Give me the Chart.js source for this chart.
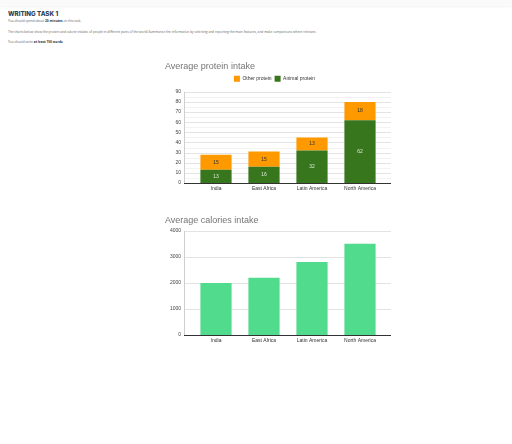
<!DOCTYPE html>
<html>
<head>
<meta charset="utf-8">
<script src="https://cdn.jsdelivr.net/npm/chart.js@4"></script>
<style>
  body { margin: 0; background: #fff; font-family: "Open Sans", sans-serif; width: 512px; height: 444px; position: relative; overflow: hidden; }
  .topbar { position: absolute; left: 0; top: 0; width: 512px; height: 6px; background: #fafafa; box-shadow: 0 1px 3px rgba(0,0,0,0.05); }
  .t { position: absolute; left: 8px; margin: 0; white-space: nowrap; }
  h1.t { font-size: 6.2px; font-family: "Inter", sans-serif; font-weight: 800; color: #2f3d55; top: 10px; }
  p.t { font-size: 3.2px; color: #666; }
  p.t b { color: #333; }
  .box { position: absolute; left: 165px; width: 235px; }
</style>
</head>
<body>
<div class="topbar"></div>
<h1 class="t">WRITING TASK 1</h1>
<p class="t" style="top:18.5px">You should spend about <b>20 minutes</b> on this task.</p>
<p class="t" style="top:29.5px">The charts below show the protein and calorie intakes of people in different parts of the world.Summarise the information by selecting and reporting the main features, and make comparisons where relevant.</p>
<p class="t" style="top:40px">You should write <b>at least 150 words</b>.</p>
<div class="box" style="top:61px;height:136px"><canvas id="protein"></canvas></div>
<div class="box" style="top:215px;height:134px"><canvas id="calories"></canvas></div>
<script>
const regions = ["India", "East Africa", "Latin America", "North America"];
const otherProtein = [15, 15, 13, 18];
const animalProtein = [13, 16, 32, 62];
const calories = [2000, 2200, 2800, 3500];

Chart.defaults.font.family = "Arial, 'Liberation Sans', sans-serif";
Chart.defaults.animation = false;

// value in the middle of each stacked segment
const valueLabels = {
  id: "valueLabels",
  afterDatasetsDraw(chart) {
    const ctx = chart.ctx;
    ctx.save();
    ctx.font = "5px Arial";
    ctx.textAlign = "center";
    ctx.textBaseline = "middle";
    chart.data.datasets.forEach((ds, i) => {
      chart.getDatasetMeta(i).data.forEach((bar, j) => {
        ctx.fillStyle = ds.labelColor;
        ctx.fillText(ds.data[j], bar.x, (bar.y + bar.base) / 2);
      });
    });
    ctx.restore();
  }
};

// plot frame is a bit wider than the bar area, like the sheets chart
const wideGrid = {
  id: "wideGrid",
  beforeDatasetsDraw(chart, args, opts) {
    const ctx = chart.ctx, a = chart.chartArea, y = chart.scales.y;
    const left = a.left - 8, right = a.right + 7;
    ctx.save();
    ctx.lineWidth = 1;
    y.ticks.forEach((t, i) => {
      const py = Math.round(y.getPixelForValue(t.value)) + 0.5;
      if (opts.minor && i > 0) {
        const my = Math.round(y.getPixelForValue(t.value - opts.minor)) + 0.5;
        ctx.strokeStyle = "#f3f3f3";
        ctx.beginPath(); ctx.moveTo(left, my); ctx.lineTo(right, my); ctx.stroke();
      }
      ctx.strokeStyle = t.value === 0 ? "#333" : "#e3e3e3";
      ctx.beginPath(); ctx.moveTo(left, py); ctx.lineTo(right, py); ctx.stroke();
    });
    ctx.strokeStyle = "#cfcfcf";
    ctx.beginPath();
    ctx.moveTo(left + 0.5, y.getPixelForValue(y.max));
    ctx.lineTo(left + 0.5, y.getPixelForValue(0));
    ctx.stroke();
    ctx.restore();
  }
};

function titleOpts(text, below) {
  return {
    display: true, text: text, align: "start", color: "#757575",
    font: { size: 9, weight: "normal" }, padding: { top: 0, bottom: below }
  };
}

function yScale(max, step) {
  return {
    stacked: true, min: 0, max: max,
    grid: { display: false, drawTicks: false, tickLength: 0 },
    border: { display: false },
    afterFit(s) { s.width = 27; },
    ticks: { stepSize: step, autoSkip: false, font: { size: 5 }, color: "#444", padding: 11,
             callback: v => String(v) }
  };
}

const xScale = {
  stacked: true,
  grid: { display: false, drawTicks: false, tickLength: 0 },
  border: { display: false },
  ticks: { font: { size: 5 }, color: "#333", padding: 3, maxRotation: 0 }
};

new Chart(document.getElementById("protein"), {
  type: "bar",
  data: {
    labels: regions,
    datasets: [
      { label: "Animal protein", data: animalProtein, backgroundColor: "#38761d", labelColor: "#d9ead3" },
      { label: "Other protein", data: otherProtein, backgroundColor: "#ff9900", labelColor: "#333" }
    ]
  },
  options: {
    responsive: true, maintainAspectRatio: false,
    layout: { padding: { left: 0, right: 16, top: 0, bottom: 0 } },
    datasets: { bar: { categoryPercentage: 1, barPercentage: 0.65, borderWidth: 0 } },
    plugins: {
      title: titleOpts("Average protein intake", 1),
      legend: {
        reverse: true,
        labels: { boxWidth: 6, boxHeight: 6, font: { size: 5 }, color: "#333", padding: 3 }
      },
      tooltip: { enabled: false },
      wideGrid: { minor: 5 }
    },
    scales: { x: xScale, y: yScale(90, 10) }
  },
  plugins: [wideGrid, valueLabels]
});

new Chart(document.getElementById("calories"), {
  type: "bar",
  data: {
    labels: regions,
    datasets: [{ label: "Calories", data: calories, backgroundColor: "#50dc8c", borderWidth: 0 }]
  },
  options: {
    responsive: true, maintainAspectRatio: false,
    layout: { padding: { left: 0, right: 16, top: 0, bottom: 0 } },
    datasets: { bar: { categoryPercentage: 1, barPercentage: 0.65 } },
    plugins: {
      title: titleOpts("Average calories intake", 5),
      legend: { display: false },
      tooltip: { enabled: false },
      wideGrid: { minor: 0 }
    },
    scales: { x: xScale, y: yScale(4000, 1000) }
  },
  plugins: [wideGrid]
});
</script>
</body>
</html>
